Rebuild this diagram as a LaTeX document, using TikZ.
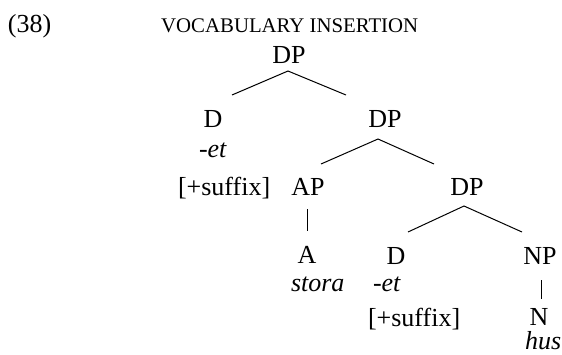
\documentclass[tikz,border=0pt]{standalone}
\usepackage{fontspec}
\setmainfont{Liberation Serif}
\begin{document}
\begin{tikzpicture}[x=1pt,y=-1pt,
  lbl/.style={inner sep=0pt,outer sep=0pt,anchor=base,font=\fontsize{26}{30}\selectfont},
  lblw/.style={lbl,anchor=base west},
  edge/.style={line width=1pt},
  smallcapslbl/.style={inner sep=0pt,anchor=base west,font=\fontsize{20.8}{24}\selectfont}]
\useasboundingbox (0,0) rectangle (562,354);
% header
\node[lblw] (num) at (8,32) {(38)};
\node[smallcapslbl] (title) at (161,32) {VOCABULARY INSERTION};
% labels
\node[lbl] (dp1) at (289,63) {DP};
\node[lbl] (d1) at (213,127) {D};
\node[lblw] (et1) at (199,157) {\itshape -et};
\node[lblw] (suf1) at (178,195) {[+suffix]};
\node[lbl] (dp2) at (385,127) {DP};
\node[lbl] (ap) at (308,195) {AP};
\node[lbl] (dp3) at (467,195) {DP};
\node[lbl] (a) at (307,263) {A};
\node[lblw] (stora) at (291,291) {\itshape stora};
\node[lbl] (d2) at (396,264) {D};
\node[lblw] (et2) at (373,291) {\itshape -et};
\node[lblw] (suf2) at (368,326) {[+suffix]};
\node[lbl] (np) at (540,264) {NP};
\node[lbl] (n) at (539,325) {N};
\node[lblw,text depth=0pt] (hus) at (525,349) {\itshape hus};
% branch points
\coordinate (dp1t) at (288,71);
\coordinate (dp1l) at (232,95);
\coordinate (dp1r) at (346,95);
\coordinate (dp2t) at (378,139);
\coordinate (dp2l) at (321,164);
\coordinate (dp2r) at (434,164);
\coordinate (dp3t) at (464,206);
\coordinate (dp3l) at (408,232);
\coordinate (dp3r) at (522,232);
\coordinate (apb) at (307,209);
\coordinate (ape) at (307,231);
\coordinate (npb) at (541,280);
\coordinate (npe) at (541,299);
\draw[edge] (dp1l) -- (dp1t) -- (dp1r);
\draw[edge] (dp2l) -- (dp2t) -- (dp2r);
\draw[edge] (dp3l) -- (dp3t) -- (dp3r);
\draw[edge] (apb) -- (ape);
\draw[edge] (npb) -- (npe);
\end{tikzpicture}
\end{document}
